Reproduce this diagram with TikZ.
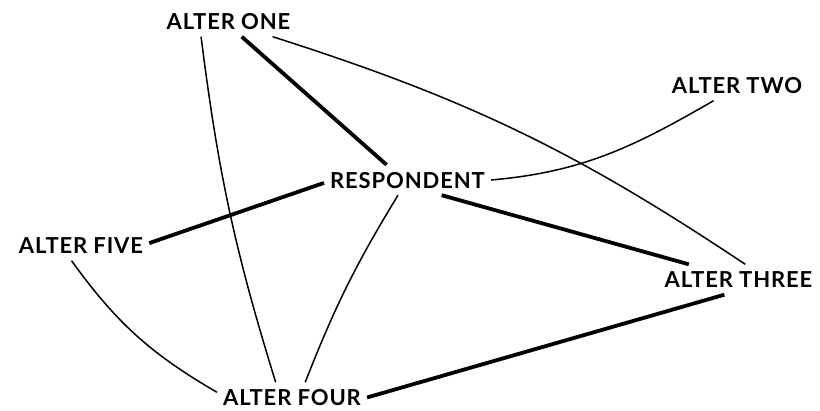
\documentclass[tikz,border=0pt]{standalone}
\usepackage{fontspec}
\newfontfamily\labfont{Lato}[LetterSpace=4]
\begin{document}
\begin{tikzpicture}[x=1pt,y=-1pt,
  lab/.style={inner xsep=6pt,inner ysep=7pt,text height=16pt,text depth=0pt,
    font=\labfont\bfseries\fontsize{22}{24}\selectfont},
  strong/.style={line width=3.8pt},
  weak/.style={line width=1.5pt}]
\useasboundingbox (0,0) rectangle (820,410);
\node[lab] (a1) at (228.5,21.5) {ALTER ONE};
\node[lab] (a2) at (737,85.5) {ALTER TWO};
\node[lab] (r)  at (407.5,180) {RESPONDENT};
\node[lab] (a5) at (81,245.5) {ALTER FIVE};
\node[lab] (a3) at (738.5,279.5) {ALTER THREE};
\node[lab] (a4) at (292,397.5) {ALTER FOUR};
% strong ties
\draw[strong] (a1.-49) -- (r.144);
\draw[strong] (r.182) -- (a5.2);
\draw[strong] (r.-24) -- (a3.163);
\draw[strong] (a4.east) -- (a3.227);
% weak ties
\draw[weak] (a1.209) to[bend right=5] (a4.137);
\draw[weak] (a1.-19) to[bend left=8] (a3.66);
\draw[weak] (a2.213) to[out=210,in=5] (r.east);
\draw[weak] (r.238) to[bend right=5] (a4.49);
\draw[weak] (a5.238) to[bend right=12] (a4.176);
\end{tikzpicture}
\end{document}
